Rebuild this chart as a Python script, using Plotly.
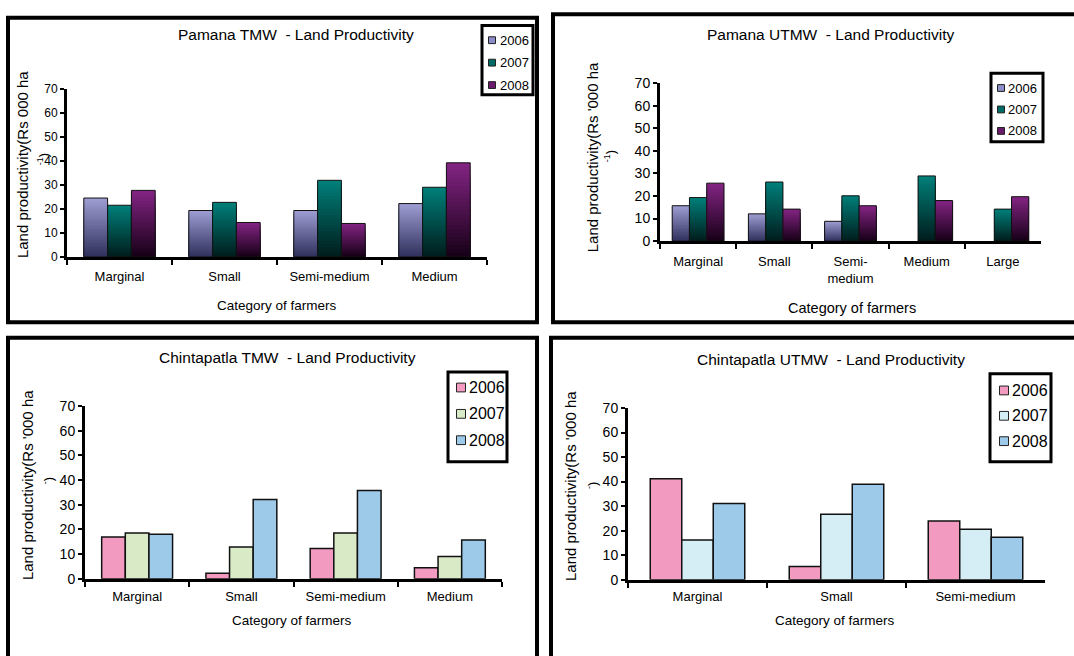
import plotly.graph_objects as go

# ---------------- data ----------------
years = ["2006", "2007", "2008"]

cats_pamana_tmw = ["Marginal", "Small", "Semi-medium", "Medium"]
pamana_tmw_2006 = [24.5, 19.3, 19.3, 22.2]
pamana_tmw_2007 = [21.5, 22.7, 31.9, 29.0]
pamana_tmw_2008 = [27.7, 14.3, 13.9, 39.2]

cats_pamana_utmw = ["Marginal", "Small", "Semi-<br>medium", "Medium", "Large"]
pamana_utmw_2006 = [15.7, 12.1, 8.8, None, None]
pamana_utmw_2007 = [19.3, 26.2, 20.1, 28.9, 14.2]
pamana_utmw_2008 = [25.7, 14.2, 15.7, 18.0, 19.7]

cats_chint_tmw = ["Marginal", "Small", "Semi-medium", "Medium"]
chint_tmw_2006 = [16.9, 2.2, 12.3, 4.5]
chint_tmw_2007 = [18.5, 12.9, 18.5, 9.0]
chint_tmw_2008 = [18.0, 32.1, 35.8, 15.7]

cats_chint_utmw = ["Marginal", "Small", "Semi-medium"]
chint_utmw_2006 = [41.2, 5.4, 23.9]
chint_utmw_2007 = [16.2, 26.7, 20.6]
chint_utmw_2008 = [31.1, 38.9, 17.3]

# ---------------- styling ----------------
W, H = 1074, 656
FONT = "Liberation Sans, Arial, sans-serif"

# vertical gradient (bottom -> top) for the Pamana panels
grad_colors = {
    "2006": ((48, 48, 92), (158, 158, 212)),
    "2007": ((0, 28, 28), (0, 128, 122)),
    "2008": ((22, 0, 22), (132, 36, 132)),
}
grad_swatch = {"2006": "#8c8cc6", "2007": "#006a66", "2008": "#6a1a6a"}
flat_tmw = {"2006": "#f39ac1", "2007": "#d8ebc6", "2008": "#9ecaea"}
flat_utmw = {"2006": "#f39ac1", "2007": "#d5edf4", "2008": "#9ecaea"}


def px(x):
    return x / W


def py(y):
    return 1 - y / H


def mix(c0, c1, t):
    r, g, b = (round(a + (b_ - a) * t) for a, b_ in zip(c0, c1))
    return f"rgb({r},{g},{b})"


fig = go.Figure()

N_SEG = 24


def gradient_bars(cats, series, xa, ya):
    for yr, vals in zip(years, series):
        lo, hi = grad_colors[yr]
        # tallest (lightest) first, then progressively shorter and darker bars
        # painted on top, so the shading runs from dark at 0 to light at the top
        for k in range(N_SEG - 1, -1, -1):
            part = [None if v is None else v * (k + 1) / N_SEG for v in vals]
            fig.add_trace(go.Bar(
                x=cats, y=part, offsetgroup=yr,
                marker=dict(color=mix(lo, hi, (k + 0.5) / N_SEG), line=dict(width=0)),
                xaxis=xa, yaxis=ya, showlegend=False, hoverinfo="skip",
            ))
        # outline of the whole bar
        fig.add_trace(go.Bar(
            x=cats, y=vals, offsetgroup=yr,
            marker=dict(color="rgba(0,0,0,0)", line=dict(color="#111", width=1)),
            xaxis=xa, yaxis=ya, showlegend=False, hoverinfo="skip",
        ))


def flat_bars(cats, series, colors, xa, ya):
    for yr, vals in zip(years, series):
        fig.add_trace(go.Bar(
            x=cats, y=vals, offsetgroup=yr, name=yr,
            marker=dict(color=colors[yr], line=dict(color="#111", width=1.5)),
            xaxis=xa, yaxis=ya, showlegend=False, hoverinfo="skip",
        ))


gradient_bars(cats_pamana_tmw, [pamana_tmw_2006, pamana_tmw_2007, pamana_tmw_2008], "x", "y")
gradient_bars(cats_pamana_utmw, [pamana_utmw_2006, pamana_utmw_2007, pamana_utmw_2008], "x2", "y2")
flat_bars(cats_chint_tmw, [chint_tmw_2006, chint_tmw_2007, chint_tmw_2008], flat_tmw, "x3", "y3")
flat_bars(cats_chint_utmw, [chint_utmw_2006, chint_utmw_2007, chint_utmw_2008], flat_utmw, "x4", "y4")

# plot areas in pixels: (left, right, top(70), bottom(0))
areas = {
    "1": (67, 487, 83, 255),
    "2": (660, 1041, 77, 239),
    "3": (85, 502, 408, 585),
    "4": (628, 1045, 410, 586),
}
ytick_size = {"1": 12, "2": 14, "3": 14, "4": 14}
xlabel_standoff = {"1": 6, "2": 6, "3": 4, "4": 3}

layout = {}
for key, (l, r, t, b) in areas.items():
    sfx = "" if key == "1" else key
    layout["xaxis" + sfx] = dict(
        domain=[px(l), px(r)], anchor="y" + sfx, type="category",
        showline=True, linecolor="black", linewidth=3,
        ticks="outside", tickson="boundaries", ticklen=5, tickwidth=2, tickcolor="black",
        showgrid=False, zeroline=False, ticklabelstandoff=xlabel_standoff[key],
        tickfont=dict(family=FONT, size=13, color="black"), fixedrange=True,
    )
    layout["yaxis" + sfx] = dict(
        domain=[py(b), py(t)], anchor="x" + sfx, range=[0, 70], dtick=10,
        showline=True, linecolor="black", linewidth=3,
        ticks="outside", ticklen=4, tickwidth=2, tickcolor="black",
        showgrid=False, zeroline=False,
        tickfont=dict(family=FONT, size=ytick_size[key], color="black"), fixedrange=True,
    )

annotations = []
shapes = []


def text(x, y, s, size, angle=0, anchor="center"):
    annotations.append(dict(
        x=px(x), y=py(y), xref="paper", yref="paper", text=s, showarrow=False,
        xanchor=anchor, yanchor="middle", textangle=angle,
        font=dict(family=FONT, size=size, color="black"),
    ))


# chart titles
text(296, 27, "Pamana TMW \u00a0- Land Productivity", 15.5)
text(830, 27, "Pamana UTMW \u00a0- Land Productivity", 15.5)
text(287, 358, "Chintapatla TMW \u00a0- Land Productivity", 15.5)
text(831, 360, "Chintapatla UTMW \u00a0- Land Productivity", 15.5)

# x-axis titles
text(277, 305, "Category of farmers", 13.5)
text(852, 308, "Category of farmers", 14.5)
text(292, 628, "Category of farmers", 13.5)
text(835, 628, "Category of farmers", 13.5)

# y-axis titles (two lines each)
text(22, 161, "Land productivity(Rs 000 ha", 15, angle=-90)
text(43, 155, "<sup>-1</sup>)", 13, angle=-90)
text(592, 153, "Land productivity(Rs '000 ha", 15, angle=-90)
text(610, 152, "<sup>-1</sup>)", 13, angle=-90)
text(27, 489, "Land productivity(Rs '000 ha", 15, angle=-90)
text(48, 485, "<sup>-</sup>)", 13, angle=-90)
text(570, 490, "Land productivity(Rs '000 ha", 15, angle=-90)
text(592, 490, "<sup>-</sup>)", 13, angle=-90)


def rect(x0, y0, x1, y1, line_w, fill=None, line_c="black"):
    shapes.append(dict(
        type="rect", xref="paper", yref="paper",
        x0=px(x0), x1=px(x1), y0=py(y0), y1=py(y1),
        line=dict(color=line_c, width=line_w),
        fillcolor=fill if fill else "rgba(0,0,0,0)", layer="above",
    ))


# panel frames
rect(8, 10, 537, 322, 4)
rect(553, 6.5, 1090, 322, 4)
rect(8, 338, 537, 680, 4)
rect(551, 338, 1090, 680, 4)


# legends: box, swatches, labels
def legend(box, rows, sw_cx, sw, txt_x, colors, size):
    rect(*box, 3)
    for yr, yc in zip(years, rows):
        rect(sw_cx - sw / 2, yc - sw / 2, sw_cx + sw / 2, yc + sw / 2, 1,
             fill=colors[yr], line_c="#222")
        text(txt_x, yc, yr, size, anchor="left")


legend((482, 18, 533, 89), (33, 56, 79), 492, 7, 498, grad_swatch, 13)
legend((991, 67, 1043, 137), (82, 104, 126), 1001, 7, 1006, grad_swatch, 13)
legend((448, 373, 507, 465), (389, 416, 443), 461, 9, 467, flat_tmw, 16)
legend((990, 375, 1051, 465), (392, 418, 444), 1004, 9, 1010, flat_utmw, 16)

fig.update_layout(
    width=W, height=H, margin=dict(l=0, r=0, t=0, b=0),
    paper_bgcolor="white", plot_bgcolor="white",
    barmode="group", bargap=0.32, bargroupgap=0,
    showlegend=False, annotations=annotations, shapes=shapes,
    **layout,
)

fig.write_html("out.html")
